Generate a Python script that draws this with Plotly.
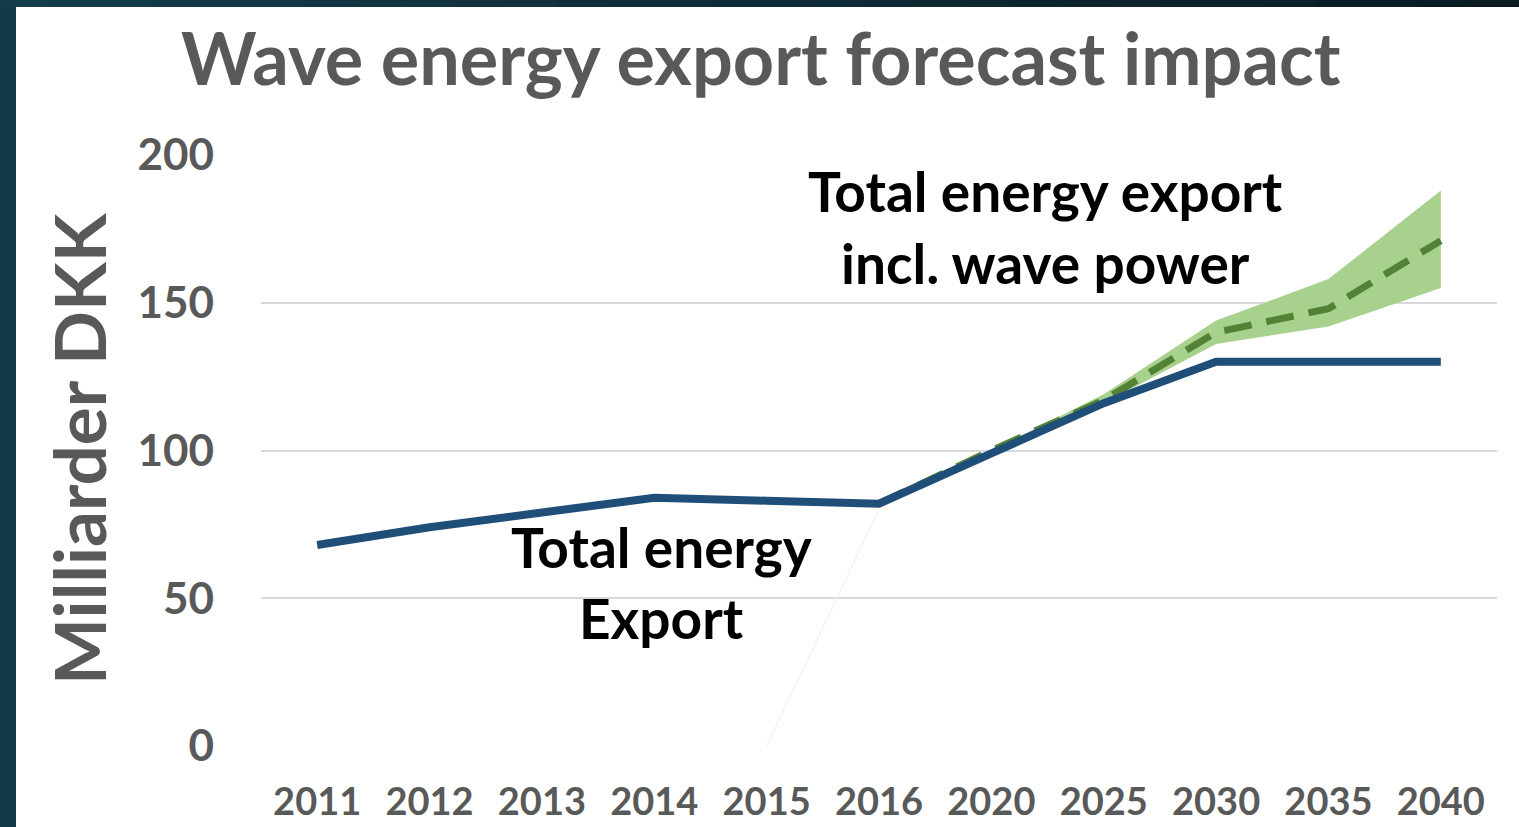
import plotly.graph_objects as go

categories = ["2011", "2012", "2013", "2014", "2015", "2016", "2020", "2025", "2030", "2035", "2040"]
total_export = [68, 74, 79, 84, 83, 82, 99, 116, 130, 130, 130]
wave_export = [None, None, None, None, None, 82, 100, 117, 140, 148, 171]
wave_low = [None, None, None, None, None, 82, 99, 116, 136, 142, 155]
wave_high = [None, None, None, None, None, 82, 100, 119, 144, 158, 188]
base_edge_x = ["2015", "2016"]
base_edge_y = [0, 80]
y_ticks = [0, 50, 100, 150, 200]

W, H = 1519, 827
L, R, T, B = 261, 22, 155, 81
PW = W - L - R
PH = H - T - B

def px(x):
    return (x - L) / PW

def py(y):
    return (H - B - y) / PH

GRAY = "#595959"
FONT = "Lato"

fig = go.Figure()

fig.add_trace(go.Scatter(x=base_edge_x, y=base_edge_y, mode="lines",
                         line=dict(color="#e8f2e0", width=1), hoverinfo="skip", showlegend=False))
fig.add_trace(go.Scatter(x=categories, y=wave_low, mode="lines", line=dict(width=0, color="#a9d18e"),
                         showlegend=False, hoverinfo="skip"))
fig.add_trace(go.Scatter(x=categories, y=wave_high, mode="lines", line=dict(width=0, color="#a9d18e"),
                         fill="tonexty", fillcolor="#a9d18e", showlegend=False, hoverinfo="skip"))
fig.add_trace(go.Scatter(x=categories, y=wave_export, mode="lines",
                         line=dict(color="#548235", width=7, dash="28px,15px"), showlegend=False))
fig.add_trace(go.Scatter(x=categories, y=total_export, mode="lines",
                         line=dict(color="#1f4e79", width=8), showlegend=False))

shapes = []
# page frame: white card over dark background
shapes.append(dict(type="rect", xref="paper", yref="paper", layer="below",
                   x0=px(16), x1=px(W + 5), y0=py(H + 5), y1=py(7),
                   fillcolor="white", line=dict(width=0)))
# top gradient strip
n = 30
c0 = (0x14, 0x3c, 0x4b)
c1 = (0x0a, 0x1b, 0x22)
for i in range(n):
    t = i / (n - 1)
    col = "rgb(%d,%d,%d)" % tuple(round(a + (b - a) * t) for a, b in zip(c0, c1))
    shapes.append(dict(type="rect", xref="paper", yref="paper", layer="below",
                       x0=px(W * i / n), x1=px(W * (i + 1) / n + 1), y0=py(7), y1=py(-2),
                       fillcolor=col, line=dict(width=0)))
# white patches hiding gridlines (as in the reference)
shapes.append(dict(type="rect", xref="paper", yref="paper", layer="between",
                   x0=px(540), x1=px(1441), y0=py(606), y1=py(588),
                   fillcolor="white", line=dict(width=0)))
shapes.append(dict(type="rect", xref="paper", yref="paper", layer="between",
                   x0=px(990), x1=px(1441), y0=py(460), y1=py(440),
                   fillcolor="white", line=dict(width=0)))

annotations = [
    dict(text="<b>Wave energy export forecast impact</b>", x=px(761), y=py(57), xref="paper", yref="paper",
         showarrow=False, font=dict(family=FONT, size=72, color=GRAY), xanchor="center", yanchor="middle"),
    dict(text="<b>Milliarder DKK</b>", x=px(78), y=py(449), xref="paper", yref="paper", textangle=-90,
         showarrow=False, font=dict(family=FONT, size=71, color=GRAY), xanchor="center", yanchor="middle"),
    dict(text="<b>Total energy export</b>", x=px(1045), y=py(191), xref="paper", yref="paper",
         showarrow=False, font=dict(family=FONT, size=55, color="black"), xanchor="center", yanchor="middle"),
    dict(text="<b>incl. wave power</b>", x=px(1045), y=py(263), xref="paper", yref="paper",
         showarrow=False, font=dict(family=FONT, size=55, color="black"), xanchor="center", yanchor="middle"),
    dict(text="<b>Total energy</b>", x=px(661), y=py(547), xref="paper", yref="paper",
         showarrow=False, font=dict(family=FONT, size=55, color="black"), xanchor="center", yanchor="middle"),
    dict(text="<b>Export</b>", x=px(661), y=py(618), xref="paper", yref="paper",
         showarrow=False, font=dict(family=FONT, size=55, color="black"), xanchor="center", yanchor="middle"),
]

fig.update_layout(
    width=W, height=H,
    margin=dict(l=L, r=R, t=T, b=B, autoexpand=False),
    paper_bgcolor="#133a48",
    plot_bgcolor="rgba(0,0,0,0)",
    shapes=shapes,
    annotations=annotations,
    showlegend=False,
    xaxis=dict(type="category", categoryorder="array", categoryarray=categories,
               range=[-0.5, len(categories) - 0.5], automargin=False,
               showgrid=False, showline=False, zeroline=False, ticks="",
               tickfont=dict(family=FONT, size=38, color=GRAY, weight="bold"), ticklabelstandoff=30,
               fixedrange=True),
    yaxis=dict(range=[0, 200], tickvals=y_ticks, showgrid=True, gridcolor="#d9d9d9", gridwidth=2,
               zeroline=False, showline=False, ticks="", automargin=False,
               tickfont=dict(family=FONT, size=44, color=GRAY, weight="bold"), ticklabelstandoff=46,
               fixedrange=True),
)

fig.write_html("out.html", config={"displayModeBar": False},
               post_script="document.body.style.margin='0';document.body.style.overflow='hidden';")
